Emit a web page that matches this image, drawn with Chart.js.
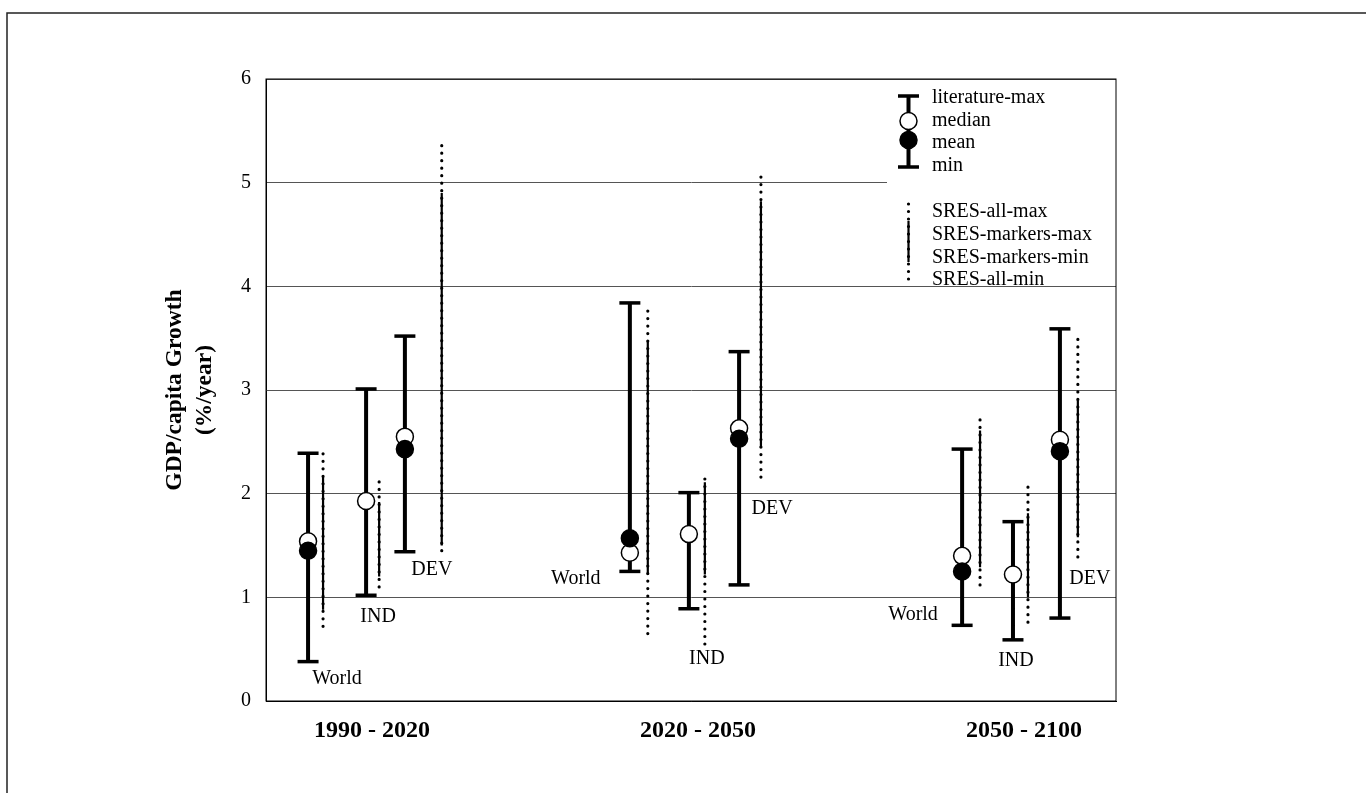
<!DOCTYPE html>
<html>
<head>
<meta charset="utf-8">
<title>GDP/capita growth ranges</title>
<script src="https://cdn.jsdelivr.net/npm/chart.js@4.4.1/dist/chart.umd.min.js"></script>
<style>
  html, body { margin: 0; padding: 0; background: #fff; }
  #wrap { width: 1366px; height: 793px; position: relative; }
</style>
</head>
<body>
<div id="wrap"><canvas id="growthChart"></canvas></div>
<script>
const periods = ['1990 - 2020', '2020 - 2050', '2050 - 2100'];
const regions = ['World', 'IND', 'DEV'];
const yTicks = [0, 1, 2, 3, 4, 5, 6];

// literature ranges, one row per period: [World, IND, DEV]
const litMax = [[2.39, 3.01, 3.52], [3.84, 2.01, 3.37], [2.43, 1.73, 3.59]];
const litMin = [[0.38, 1.02, 1.44], [1.25, 0.89, 1.12], [0.73, 0.59, 0.80]];
const litMedian = [[1.54, 1.93, 2.55], [1.43, 1.61, 2.63], [1.40, 1.22, 2.52]];
const litMean = [[1.45, null, 2.43], [1.57, null, 2.53], [1.25, null, 2.41]];

// SRES ranges
const sresAllMax = [[2.44, 2.13, 5.42], [3.77, 2.19, 5.10], [2.78, 2.10, 3.50]];
const sresMarkersMax = [[2.16, 1.92, 4.90], [3.47, 2.11, 4.82], [2.61, 1.81, 2.90]];
const sresMarkersMin = [[0.88, 1.20, 1.50], [1.22, 1.22, 2.44], [1.29, 1.00, 1.58]];
const sresAllMin = [[0.72, 1.10, 1.45], [0.65, 0.55, 2.16], [1.12, 0.76, 1.39]];

// layout: where each region sits inside its period, and where its name goes
const regionShift = [[-0.196, -0.018, 0.101], [-0.209, -0.028, 0.126], [-0.190, -0.034, 0.110]];
const sresShift = [[0.046, 0.040, 0.113], [0.055, 0.049, 0.067], [0.055, 0.046, 0.055]];
const labelSpots = [
  [[29, 0.21], [12, 0.81], [27, 1.27]],
  [[-54, 1.18], [18, 0.41], [33, 1.85]],
  [[-49, 0.83], [3, 0.39], [30, 1.18]]
];

const SERIF = "'Liberation Serif', 'Times New Roman', serif";

function xAt(p, r, sres) {
  return p + regionShift[p][r] + (sres ? sresShift[p][r] : 0);
}

// vertical segments lo->hi, separated by gaps
function segments(hi, lo, sres) {
  const pts = [];
  periods.forEach((_, p) => {
    regions.forEach((_, r) => {
      const x = xAt(p, r, sres);
      pts.push({ x: x, y: lo[p][r] }, { x: x, y: hi[p][r] }, { x: x, y: null });
    });
  });
  return pts;
}

function points(lists) {
  const pts = [];
  lists.forEach(vals => {
    periods.forEach((_, p) => {
      regions.forEach((_, r) => {
        if (vals[p][r] !== null) pts.push({ x: xAt(p, r), y: vals[p][r] });
      });
    });
  });
  return pts;
}

const pageDecor = {
  id: 'pageDecor',
  beforeDraw(chart) {
    const ctx = chart.ctx;
    ctx.save();
    ctx.strokeStyle = '#222';
    ctx.lineWidth = 1.5;
    ctx.beginPath();
    ctx.moveTo(7, 793);
    ctx.lineTo(7, 13);
    ctx.lineTo(1366, 13);
    ctx.stroke();
    ctx.restore();
  },
  beforeDatasetsDraw(chart) {
    const ctx = chart.ctx;
    const area = chart.chartArea;
    ctx.save();
    // legend box covers the grid
    ctx.fillStyle = '#fff';
    ctx.fillRect(887, area.top + 1.5, area.right - 887, 198);

    ctx.strokeStyle = '#000';
    ctx.fillStyle = '#000';
    const sx = 908.5;
    ctx.lineWidth = 4;
    ctx.beginPath();
    ctx.moveTo(sx, 96);
    ctx.lineTo(sx, 167);
    ctx.stroke();
    ctx.lineWidth = 3.5;
    ctx.beginPath();
    ctx.moveTo(sx - 10.5, 96); ctx.lineTo(sx + 10.5, 96);
    ctx.moveTo(sx - 10.5, 167); ctx.lineTo(sx + 10.5, 167);
    ctx.stroke();
    ctx.lineWidth = 1.5;
    ctx.beginPath();
    ctx.arc(sx, 121, 8.5, 0, Math.PI * 2);
    ctx.fillStyle = '#fff';
    ctx.fill();
    ctx.stroke();
    ctx.beginPath();
    ctx.arc(sx, 140, 8.5, 0, Math.PI * 2);
    ctx.fillStyle = '#000';
    ctx.fill();
    ctx.stroke();

    // SRES symbol
    ctx.lineWidth = 3.2;
    ctx.lineCap = 'round';
    ctx.setLineDash([0, 7.5]);
    ctx.beginPath();
    ctx.moveTo(sx, 204);
    ctx.lineTo(sx, 284);
    ctx.stroke();
    ctx.setLineDash([]);
    ctx.lineCap = 'butt';
    ctx.lineWidth = 2.2;
    ctx.beginPath();
    ctx.moveTo(sx, 221);
    ctx.lineTo(sx, 262);
    ctx.stroke();

    ctx.font = '20px ' + SERIF;
    ctx.textAlign = 'left';
    ctx.textBaseline = 'middle';
    const rows = [
      ['literature-max', 98], ['median', 121], ['mean', 143], ['min', 166],
      ['SRES-all-max', 212], ['SRES-markers-max', 235], ['SRES-markers-min', 258], ['SRES-all-min', 280]
    ];
    rows.forEach(([t, y]) => ctx.fillText(t, 932, y));
    ctx.restore();
  },
  afterDatasetsDraw(chart) {
    const ctx = chart.ctx;
    const area = chart.chartArea;
    const xs = chart.scales.x;
    const ys = chart.scales.y;
    ctx.save();
    // plot frame
    ctx.strokeStyle = '#000';
    ctx.lineWidth = 1;
    ctx.strokeRect(area.left, area.top, area.right - area.left, area.bottom - area.top);

    // region names
    ctx.fillStyle = '#000';
    ctx.font = '20px ' + SERIF;
    ctx.textAlign = 'center';
    ctx.textBaseline = 'middle';
    periods.forEach((_, p) => {
      regions.forEach((name, r) => {
        const spot = labelSpots[p][r];
        ctx.fillText(name, xs.getPixelForValue(xAt(p, r)) + spot[0], ys.getPixelForValue(spot[1]));
      });
    });

    // y axis title
    ctx.font = 'bold 23.5px ' + SERIF;
    const midY = (area.top + area.bottom) / 2;
    [['GDP/capita Growth', 175], ['(%/year)', 205]].forEach(([t, x]) => {
      ctx.save();
      ctx.translate(x, midY);
      ctx.rotate(-Math.PI / 2);
      ctx.fillText(t, 0, 0);
      ctx.restore();
    });
    ctx.restore();
  }
};

const ctx = document.getElementById('growthChart').getContext('2d');
new Chart(ctx, {
  type: 'line',
  data: {
    datasets: [
      {
        label: 'mean',
        data: points([litMean]),
        showLine: false,
        pointStyle: 'circle',
        pointRadius: 8.5,
        pointBackgroundColor: '#000',
        pointBorderColor: '#000',
        pointBorderWidth: 1.5
      },
      {
        label: 'median',
        data: points([litMedian]),
        showLine: false,
        pointStyle: 'circle',
        pointRadius: 8.5,
        pointBackgroundColor: '#fff',
        pointBorderColor: '#000',
        pointBorderWidth: 1.5
      },
      {
        label: 'caps',
        data: points([litMax, litMin]),
        showLine: false,
        pointStyle: 'line',
        pointRadius: 10.5,
        pointBorderColor: '#000',
        pointBorderWidth: 3.5
      },
      {
        label: 'literature range',
        data: segments(litMax, litMin, false),
        borderColor: '#000',
        borderWidth: 4,
        pointRadius: 0,
        spanGaps: false
      },
      {
        label: 'SRES markers',
        data: segments(sresMarkersMax, sresMarkersMin, true),
        borderColor: '#000',
        borderWidth: 2.2,
        pointRadius: 0,
        spanGaps: false
      },
      {
        label: 'SRES all',
        data: segments(sresAllMax, sresAllMin, true),
        borderColor: '#000',
        borderWidth: 3.2,
        borderDash: [0, 7.5],
        borderCapStyle: 'round',
        pointRadius: 0,
        spanGaps: false
      }
    ]
  },
  options: {
    responsive: true,
    maintainAspectRatio: false,
    devicePixelRatio: 1,
    animation: false,
    events: [],
    layout: { padding: { top: 79, right: 250, left: 0, bottom: 0 } },
    plugins: {
      legend: { display: false },
      tooltip: { enabled: false }
    },
    scales: {
      x: {
        type: 'linear',
        min: -0.325,
        max: 2.282,
        afterFit(scale) { scale.height = 92; },
        afterBuildTicks(scale) {
          scale.ticks = periods.map((_, i) => ({ value: i }));
        },
        grid: { display: false, drawTicks: false },
        border: { display: true, color: '#000', width: 1 },
        ticks: {
          autoSkip: false,
          maxRotation: 0,
          padding: 15,
          color: '#000',
          font: { family: SERIF, size: 24, weight: 'bold' },
          callback: (v) => periods[v]
        }
      },
      y: {
        min: 0,
        max: 6,
        afterFit(scale) { scale.width = 266; },
        afterBuildTicks(scale) {
          scale.ticks = yTicks.map(v => ({ value: v }));
        },
        grid: { color: '#555', lineWidth: 1, drawTicks: false },
        border: { display: true, color: '#000', width: 1 },
        ticks: {
          padding: 15,
          color: '#000',
          font: { family: SERIF, size: 20 }
        }
      }
    }
  },
  plugins: [pageDecor]
});
</script>
</body>
</html>
